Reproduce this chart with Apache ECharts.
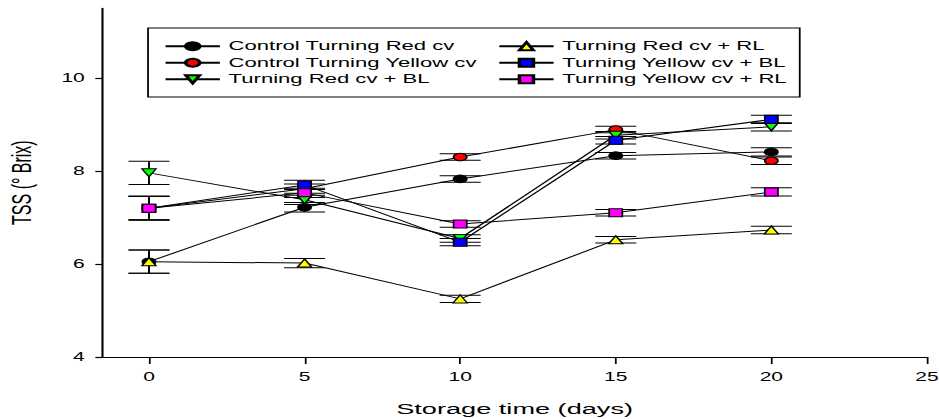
<!DOCTYPE html>
<html>
<head>
<meta charset="utf-8">
<script src="https://cdn.jsdelivr.net/npm/echarts@6/dist/echarts.min.js"></script>
<style>
  html, body { margin: 0; padding: 0; background: #fff; overflow: hidden; }
  #wrap { width: 939px; height: 419px; overflow: hidden; }
  #c { width: 536px; height: 419px; transform: scaleX(1.7519); transform-origin: 0 0; }
</style>
</head>
<body>
<div id="wrap"><div id="c"></div></div>
<script>
// ---- data ----
const days = [0, 5, 10, 15, 20];
const xTicks = [0, 5, 10, 15, 20, 25];
const yTicks = [4, 6, 8, 10];

const seriesNames = [
  'Control Turning Red cv',
  'Control Turning Yellow cv',
  'Turning Red cv + BL',
  'Turning Red cv + RL',
  'Turning Yellow cv + BL',
  'Turning Yellow cv + RL'
];

const controlRed      = [6.05, 7.22, 7.83, 8.33, 8.41];
const controlYellow   = [7.20, 7.62, 8.30, 8.89, 8.22];
const redBL           = [7.96, 7.38, 6.55, 8.77, 8.95];
const redRL           = [6.05, 6.02, 5.25, 6.52, 6.73];
const yellowBL        = [7.20, 7.70, 6.47, 8.66, 9.11];
const yellowRL        = [7.20, 7.53, 6.86, 7.10, 7.55];

const controlRedErr    = [0.25, 0.10, 0.07, 0.07, 0.09];
const controlYellowErr = [0.25, 0.10, 0.07, 0.07, 0.08];
const redBLErr         = [0.25, 0.10, 0.08, 0.08, 0.09];
const redRLErr         = [0.25, 0.10, 0.08, 0.07, 0.08];
const yellowBLErr      = [0.25, 0.10, 0.08, 0.08, 0.09];
const yellowRLErr      = [0.26, 0.10, 0.07, 0.07, 0.09];

const allValues = [controlRed, controlYellow, redBL, redRL, yellowBL, yellowRL];
const allErrs = [controlRedErr, controlYellowErr, redBLErr, redRLErr, yellowBLErr, yellowRLErr];

const fills = ['#000000', '#ff0000', '#00ff00', '#ffff00', '#0000ff', '#ff00ff'];
const symbols = ['circle', 'circle', 'triangle', 'triangle', 'rect', 'rect'];
const rotations = [0, 0, 180, 0, 0, 0];
const sizes = [[7.5, 7.5], [7.5, 7.5], [8, 8], [8, 8], [7.5, 8], [7.5, 8]];

const FONT = '"Liberation Sans", Arial, Helvetica, sans-serif';

const errData = [];
allValues.forEach((vals, si) => {
  vals.forEach((v, i) => {
    errData.push([days[i], v - allErrs[si][i], v + allErrs[si][i]]);
  });
});

const lineSeries = seriesNames.map((name, si) => ({
  name: name,
  type: 'line',
  data: days.map((d, i) => [d, allValues[si][i]]),
  symbol: symbols[si],
  symbolRotate: rotations[si],
  symbolSize: sizes[si],
  showAllSymbol: true,
  lineStyle: { color: '#000', width: 1 },
  itemStyle: { color: fills[si], borderColor: '#000', borderWidth: 1 },
  emphasis: { disabled: true },
  z: 3 + si,
  animation: false
}));

const errSeries = {
  name: 'err',
  type: 'custom',
  data: errData,
  z: 2,
  silent: true,
  animation: false,
  renderItem: function (params, api) {
    const x = api.value(0);
    const lo = api.coord([x, api.value(1)]);
    const hi = api.coord([x, api.value(2)]);
    const hw = 11.7;
    const st = { stroke: '#000', lineWidth: 1 };
    return {
      type: 'group',
      children: [
        { type: 'line', shape: { x1: lo[0], y1: lo[1], x2: hi[0], y2: hi[1] }, style: { stroke: '#000', lineWidth: 1.1 } },
        { type: 'line', shape: { x1: lo[0] - hw, y1: lo[1], x2: lo[0] + hw, y2: lo[1] }, style: st },
        { type: 'line', shape: { x1: hi[0] - hw, y1: hi[1], x2: hi[0] + hw, y2: hi[1] }, style: st }
      ]
    };
  }
};

const chart = echarts.init(document.getElementById('c'), null, { renderer: 'svg' });

const legendCommon = {
  orient: 'vertical',
  top: 38,
  itemWidth: 31,
  itemHeight: 10,
  itemGap: 0,
  selectedMode: false,
  padding: 0,
  textStyle: { fontFamily: FONT, fontSize: 12.6, color: '#000', lineHeight: 16.5 }
};

chart.setOption({
  animation: false,
  backgroundColor: '#fff',
  grid: { left: 58.4, right: 6.9, top: 8.25, bottom: 62, containLabel: false, outerBoundsMode: 'none' },
  graphic: [{
    type: 'rect',
    shape: { x: 84.5, y: 28, width: 372, height: 69 },
    style: { fill: 'none', stroke: '#000', lineWidth: 1 },
    z: 1
  }],
  legend: [
    Object.assign({}, legendCommon, { left: 93.5, data: seriesNames.slice(0, 3) }),
    Object.assign({}, legendCommon, { left: 284, data: seriesNames.slice(3, 6) })
  ],
  xAxis: {
    type: 'value',
    min: -1.5,
    max: 25,
    name: 'Storage time (days)',
    nameLocation: 'middle',
    nameGap: 44,
    nameTextStyle: { fontFamily: FONT, fontSize: 15.5, color: '#000' },
    axisLine: { show: true, onZero: false, lineStyle: { color: '#000', width: 1.2 } },
    axisTick: { show: true, inside: false, length: 7, customValues: xTicks, lineStyle: { color: '#000', width: 1 } },
    axisLabel: { customValues: xTicks, margin: 14, fontFamily: FONT, fontSize: 12, color: '#000' },
    splitLine: { show: false }
  },
  yAxis: {
    type: 'value',
    min: 4,
    max: 11.5,
    name: 'TSS (° Brix)',
    nameLocation: 'middle',
    nameGap: 38.5,
    nameTextStyle: { fontFamily: FONT, fontSize: 16, color: '#000' },
    axisLine: { show: true, onZero: false, lineStyle: { color: '#000', width: 1.2 } },
    axisTick: { show: true, inside: false, length: 4, customValues: yTicks, lineStyle: { color: '#000', width: 1.2 } },
    axisLabel: { customValues: yTicks, margin: 10, fontFamily: FONT, fontSize: 12, color: '#000' },
    splitLine: { show: false }
  },
  series: [errSeries].concat(lineSeries)
});
</script>
</body>
</html>
